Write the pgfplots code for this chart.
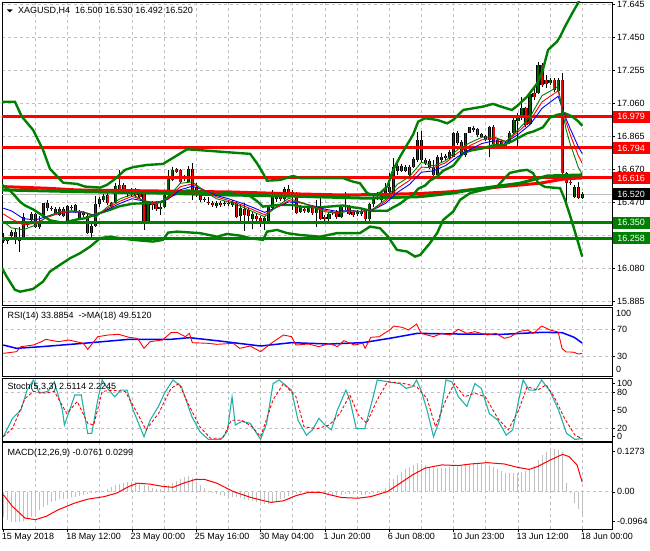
\documentclass[border=0pt]{standalone}
\usepackage{fontspec}
\setmainfont{Liberation Sans}
\usepackage{pgfplots}
\usepackage{pgfplotstable}
\pgfplotsset{compat=1.18}

\definecolor{mtgreen}{RGB}{0,128,0}
\definecolor{bodygreen}{RGB}{0,100,0}
\definecolor{mtred}{RGB}{255,0,0}
\definecolor{gridgray}{RGB}{192,192,192}
\definecolor{stochteal}{RGB}{32,178,170}
\definecolor{histgray}{RGB}{192,192,192}

% XAGUSD H4 candles: bar index, open, high, low, close
\pgfplotstableread{
i o h l c
0 16.245 16.292 16.233 16.268
1 16.255 16.267 16.225 16.243
2 16.274 16.308 16.267 16.298
3 16.298 16.314 16.225 16.253
4 16.245 16.328 16.180 16.268
5 16.268 16.407 16.265 16.383
6 16.350 16.361 16.326 16.338
7 16.372 16.415 16.356 16.401
8 16.401 16.411 16.322 16.328
9 16.328 16.391 16.316 16.363
10 16.383 16.470 16.377 16.466
11 16.466 16.486 16.422 16.437
12 16.437 16.450 16.421 16.431
13 16.403 16.444 16.397 16.434
14 16.395 16.444 16.391 16.434
15 16.433 16.444 16.385 16.391
16 16.357 16.456 16.351 16.450
17 16.446 16.456 16.427 16.437
18 16.456 16.462 16.409 16.417
19 16.381 16.427 16.373 16.417
20 16.409 16.421 16.385 16.397
21 16.391 16.407 16.284 16.292
22 16.289 16.351 16.268 16.334
23 16.334 16.510 16.328 16.460
24 16.460 16.502 16.446 16.490
25 16.486 16.521 16.474 16.510
26 16.514 16.535 16.456 16.466
27 16.466 16.474 16.433 16.443
28 16.470 16.585 16.462 16.569
29 16.575 16.664 16.535 16.549
30 16.575 16.587 16.527 16.539
31 16.541 16.551 16.502 16.526
32 16.521 16.557 16.510 16.545
33 16.545 16.557 16.504 16.515
34 16.541 16.551 16.496 16.505
35 16.521 16.535 16.308 16.351
36 16.351 16.474 16.344 16.462
37 16.466 16.482 16.427 16.456
38 16.468 16.480 16.421 16.433
39 16.431 16.466 16.397 16.446
40 16.444 16.527 16.438 16.515
41 16.515 16.664 16.510 16.609
42 16.604 16.680 16.600 16.664
43 16.668 16.675 16.646 16.654
44 16.664 16.670 16.587 16.594
45 16.620 16.634 16.598 16.609
46 16.594 16.687 16.588 16.670
47 16.670 16.707 16.486 16.515
48 16.565 16.585 16.505 16.545
49 16.515 16.526 16.476 16.486
50 16.492 16.504 16.474 16.486
51 16.476 16.505 16.456 16.466
52 16.466 16.480 16.444 16.456
53 16.450 16.480 16.438 16.466
54 16.466 16.480 16.444 16.456
55 16.460 16.480 16.450 16.466
56 16.466 16.480 16.450 16.460
57 16.456 16.486 16.444 16.476
58 16.470 16.476 16.377 16.387
59 16.391 16.456 16.351 16.437
60 16.431 16.466 16.304 16.397
61 16.427 16.437 16.363 16.391
62 16.372 16.417 16.312 16.403
63 16.391 16.407 16.357 16.372
64 16.377 16.391 16.328 16.351
65 16.357 16.391 16.308 16.377
66 16.363 16.456 16.356 16.446
67 16.437 16.545 16.427 16.505
68 16.490 16.526 16.476 16.510
69 16.505 16.515 16.480 16.490
70 16.490 16.565 16.482 16.549
71 16.549 16.575 16.526 16.535
72 16.535 16.545 16.427 16.521
73 16.521 16.535 16.403 16.407
74 16.417 16.456 16.409 16.446
75 16.431 16.444 16.409 16.422
76 16.417 16.456 16.409 16.444
77 16.446 16.456 16.397 16.407
78 16.411 16.486 16.328 16.452
79 16.452 16.496 16.367 16.372
80 16.387 16.397 16.361 16.372
81 16.372 16.415 16.361 16.403
82 16.417 16.427 16.397 16.407
83 16.417 16.427 16.373 16.383
84 16.383 16.456 16.377 16.446
85 16.452 16.535 16.427 16.443
86 16.446 16.456 16.395 16.403
87 16.417 16.427 16.387 16.397
88 16.403 16.427 16.391 16.417
89 16.403 16.433 16.391 16.422
90 16.422 16.433 16.363 16.372
91 16.372 16.470 16.357 16.462
92 16.462 16.515 16.446 16.496
93 16.505 16.535 16.486 16.496
94 16.486 16.526 16.476 16.515
95 16.502 16.585 16.486 16.555
96 16.565 16.644 16.526 16.535
97 16.526 16.733 16.521 16.683
98 16.659 16.723 16.634 16.687
99 16.687 16.699 16.652 16.659
100 16.683 16.693 16.652 16.659
101 16.683 16.693 16.624 16.634
102 16.683 16.743 16.674 16.727
103 16.723 16.891 16.713 16.842
104 16.842 16.897 16.713 16.723
105 16.723 16.735 16.693 16.703
106 16.719 16.729 16.670 16.680
107 16.683 16.723 16.620 16.634
108 16.634 16.753 16.628 16.739
109 16.723 16.766 16.713 16.739
110 16.747 16.758 16.723 16.733
111 16.733 16.782 16.723 16.772
112 16.743 16.891 16.739 16.885
113 16.885 16.895 16.812 16.822
114 16.831 16.842 16.743 16.753
115 16.753 16.885 16.743 16.881
116 16.885 16.920 16.881 16.917
117 16.914 16.924 16.891 16.901
118 16.905 16.913 16.861 16.871
119 16.877 16.885 16.852 16.861
120 16.865 16.873 16.836 16.846
121 16.842 16.924 16.743 16.920
122 16.920 16.929 16.812 16.818
123 16.842 16.852 16.808 16.818
124 16.831 16.842 16.792 16.802
125 16.806 16.836 16.796 16.825
126 16.822 16.895 16.818 16.885
127 16.885 16.970 16.877 16.960
128 16.956 17.000 16.802 16.990
129 16.970 17.098 16.960 17.029
130 17.029 17.039 16.920 16.930
131 16.936 17.118 16.930 17.114
132 17.118 17.148 17.079 17.098
133 17.118 17.306 17.114 17.286
134 17.286 17.296 17.157 17.167
135 17.197 17.227 17.148 17.173
136 17.178 17.207 17.167 17.197
137 17.197 17.207 17.128 17.138
138 17.134 17.207 17.128 17.197
139 17.197 17.237 16.624 16.644
140 16.644 16.654 16.446 16.585
141 16.594 16.604 16.575 16.585
142 16.505 16.575 16.496 16.565
143 16.561 16.594 16.490 16.496
144 16.500 16.530 16.492 16.520
}\candles

% MACD(12,26,9) main histogram
\pgfplotstableread{
i m
0 -0.079
1 -0.088
2 -0.093
3 -0.095
4 -0.094
5 -0.092
6 -0.086
7 -0.078
8 -0.068
9 -0.058
10 -0.048
11 -0.040
12 -0.033
13 -0.028
14 -0.024
15 -0.021
16 -0.019
17 -0.017
18 -0.015
19 -0.012
20 -0.009
21 -0.007
22 -0.004
23 -0.002
24 0.001
25 0.004
26 0.008
27 0.014
28 0.021
29 0.025
30 0.028
31 0.030
32 0.032
33 0.030
34 0.027
35 0.022
36 0.018
37 0.013
38 0.008
39 0.009
40 0.014
41 0.020
42 0.028
43 0.034
44 0.041
45 0.046
46 0.050
47 0.044
48 0.032
49 0.022
50 0.011
51 0.003
52 -0.004
53 -0.007
54 -0.009
55 -0.012
56 -0.013
57 -0.015
58 -0.017
59 -0.020
60 -0.022
61 -0.025
62 -0.028
63 -0.033
64 -0.036
65 -0.039
66 -0.039
67 -0.034
68 -0.028
69 -0.023
70 -0.019
71 -0.013
72 -0.009
73 -0.006
74 -0.004
75 -0.001
76 0.001
77 0.001
78 0.001
79 -0.001
80 -0.004
81 -0.006
82 -0.009
83 -0.009
84 -0.009
85 -0.008
86 -0.007
87 -0.007
88 -0.008
89 -0.009
90 -0.009
91 -0.008
92 -0.005
93 -0.002
94 0.004
95 0.012
96 0.030
97 0.040
98 0.051
99 0.061
100 0.071
101 0.079
102 0.085
103 0.089
104 0.087
105 0.084
106 0.079
107 0.074
108 0.074
109 0.074
110 0.075
111 0.077
112 0.078
113 0.079
114 0.081
115 0.084
116 0.087
117 0.090
118 0.091
119 0.090
120 0.087
121 0.083
122 0.079
123 0.072
124 0.066
125 0.060
126 0.058
127 0.058
128 0.059
129 0.061
130 0.064
131 0.072
132 0.081
133 0.100
134 0.115
135 0.124
136 0.131
137 0.133
138 0.131
139 0.125
140 0.027
141 -0.004
142 -0.034
143 -0.055
144 -0.0761
}\macd

\pgfplotsset{
  panel/.style={
    scale only axis, width=610pt, anchor=north west,
    xmin=-0.32, xmax=151.4,
    axis line style={black, line width=0.9pt},
    grid style={gridgray, line width=0.7pt, dash pattern=on 3pt off 3pt},
    major tick length=3pt, tick align=outside,
    ytick pos=right, yticklabel pos=right, xtick pos=bottom,
    tick style={black, line width=0.6pt},
    ticklabel style={font=\fontsize{9}{10}\selectfont, inner sep=1pt},
    yticklabel style={anchor=west, xshift=1pt},
  },
  nox/.style={xtick={8,16,...,144}, xticklabels={}, xtick style={draw=none}, xmajorgrids},
  level/.style={gridgray, line width=0.7pt, dash pattern=on 3pt off 3pt},
}
\tikzset{
  lbl/.style={anchor=west, inner sep=0pt, font=\fontsize{9}{10}\selectfont},
  pbox/.style={anchor=west, inner sep=0pt, minimum width=37pt, minimum height=12pt,
    text=white, font=\fontsize{9}{10}\selectfont},
}

\begin{document}
\begin{tikzpicture}
\path[use as bounding box] (0,0) rectangle (650pt,550pt);

% ---------- price panel ----------
\begin{axis}[panel, nox, at={(2pt,548pt)}, height=303pt,
  ymin=15.863, ymax=17.659,
  ytick={15.885,16.0806,16.2761,16.4717,16.6672,16.8628,17.0583,17.2539,17.4494,17.645},
  yticklabels={15.885,16.080,{},16.470,16.670,16.865,17.060,17.255,17.450,17.645},
  ymajorgrids]

% current price line
\addplot[gridgray, line width=0.8pt] coordinates {(-1,16.520) (152,16.520)};

% wicks
\addplot[draw=none, mark=none, error bars/.cd, y dir=plus, y explicit, error mark=none,
  error bar style={draw=black, line width=1pt}]
  table[x=i, y=l, y error expr=\thisrow{h}-\thisrow{l}] {\candles};
% bull bodies
\addplot[draw=none, mark=none, error bars/.cd, y dir=plus, y explicit, error mark=none,
  error bar style={draw=black, line width=3.2pt}]
  table[x=i, y=o, y error expr={max(\thisrow{c}-\thisrow{o},0)}] {\candles};
\addplot[draw=none, mark=none, error bars/.cd, y dir=plus, y explicit, error mark=none,
  error bar style={draw=bodygreen, line width=1.4pt}]
  table[x=i, y=o, y error expr={max(\thisrow{c}-\thisrow{o},0)}] {\candles};
% bear bodies
\addplot[draw=none, mark=none, error bars/.cd, y dir=plus, y explicit, error mark=none,
  error bar style={draw=black, line width=3.2pt}]
  table[x=i, y=c, y error expr={max(\thisrow{o}-\thisrow{c},0)}] {\candles};
\addplot[draw=none, mark=none, error bars/.cd, y dir=plus, y explicit, error mark=none,
  error bar style={draw=mtred, line width=1.4pt}]
  table[x=i, y=c, y error expr={max(\thisrow{o}-\thisrow{c},0)}] {\candles};

% horizontal levels
\addplot[mtred, line width=3pt] coordinates {(-1,16.979) (152,16.979)};
\addplot[mtred, line width=3pt] coordinates {(-1,16.794) (152,16.794)};
\addplot[mtred, line width=3pt] coordinates {(-1,16.616) (152,16.616)};
\addplot[mtgreen, line width=3pt] coordinates {(-1,16.350) (152,16.350)};
\addplot[mtgreen, line width=3pt] coordinates {(-1,16.258) (152,16.258)};

% slow moving averages
\addplot[mtred, line width=3pt] coordinates {
(-0.32,16.565) (10.9,16.555) (18.3,16.545) (37.7,16.539) (56.4,16.533) (73.8,16.521)
(84.5,16.515) (93.7,16.518) (103.7,16.524) (111.9,16.535) (124.3,16.565) (133.5,16.585)
(139.2,16.609) (142.7,16.615) (144,16.616)};
\addplot[mtgreen, line width=3pt] coordinates {
(-0.32,16.545) (18.3,16.535) (37.7,16.527) (56.4,16.515) (73.8,16.507) (90.5,16.496)
(103.7,16.505) (111.9,16.527) (116.1,16.545) (128.5,16.585) (135.3,16.628) (144,16.634)};

% Bollinger bands
\addplot[mtgreen, line width=2.4pt] coordinates {
(-0.32,17.068) (2.9,17.068) (4.6,16.980) (7.4,16.901) (9.9,16.782) (11.6,16.670)
(14.9,16.588) (18.3,16.581) (20.3,16.565) (24.1,16.559) (25.8,16.575) (27.8,16.610)
(30.3,16.664) (32.3,16.680) (35.7,16.693) (39.7,16.699) (42.2,16.735) (45.7,16.786)
(48.2,16.782) (53.9,16.772) (58.9,16.763) (61.4,16.759) (63.1,16.703) (64.6,16.644)
(65.6,16.600) (68.8,16.604) (72.1,16.628) (73.8,16.615) (78.8,16.615) (84.5,16.615)
(87,16.594) (88.7,16.585) (90.5,16.526) (92,16.515) (93.7,16.526) (95.5,16.565)
(97,16.664) (98.7,16.743) (100.4,16.812) (101.9,16.871) (103.2,16.950) (104.9,16.970)
(107.9,16.960) (110.4,16.940) (111.9,16.960) (114.4,17.019) (119.3,17.039) (121.8,17.055)
(124.3,17.035) (126.5,17.019) (127.8,17.043) (130.3,17.098) (132.8,17.177) (134.2,17.256)
(135.5,17.375) (137.7,17.424) (138.5,17.454) (139.7,17.513) (141.5,17.592) (143,17.655)
(144,17.700)};
\addplot[mtgreen, line width=2.4pt] coordinates {
(-0.32,16.575) (1.7,16.540) (2.9,16.510) (4.2,16.474) (5.4,16.453) (7.4,16.430)
(9.9,16.392) (11.6,16.365) (14.9,16.350) (18.3,16.370) (20.3,16.377) (24.1,16.409)
(26.5,16.427) (29,16.449) (32.3,16.464) (35.7,16.466) (39.7,16.474) (41,16.504)
(42.2,16.515) (45.7,16.542) (48.2,16.537) (53.2,16.520) (55.6,16.527) (58.9,16.518)
(61.4,16.508) (63.1,16.479) (64.6,16.446) (65.6,16.449) (68.8,16.456) (72.1,16.456)
(73.8,16.446) (78.8,16.442) (84.5,16.453) (87,16.442) (88.7,16.437) (90.5,16.426)
(92,16.421) (93.7,16.422) (95.5,16.421) (97,16.442) (98.7,16.464) (100.4,16.495)
(101.9,16.515) (103.2,16.552) (104.9,16.571) (106.1,16.600) (107.9,16.624) (109.4,16.659)
(111.9,16.688) (114.4,16.764) (116.1,16.778) (119.3,16.792) (121.8,16.809) (124.3,16.811)
(126.5,16.833) (127.8,16.850) (130.3,16.881) (131.8,16.891) (134.2,16.916) (136,16.974)
(137.7,16.990) (139.7,16.999) (141.5,16.980) (143,16.952) (144,16.925)};
\addplot[mtgreen, line width=2.4pt] coordinates {
(-0.32,16.081) (0.85,16.031) (2.9,15.953) (4.2,15.942) (7.4,15.958) (9.9,16.002)
(11.6,16.061) (14.1,16.101) (16.6,16.140) (19.1,16.170) (21.6,16.209) (24.1,16.259)
(26.5,16.268) (29,16.259) (32.3,16.249) (37.2,16.239) (39.7,16.249) (41,16.292)
(43.2,16.298) (48.9,16.289) (53.2,16.268) (55.6,16.284) (58.9,16.274) (61.4,16.259)
(64.6,16.249) (65.6,16.298) (68.1,16.308) (70.6,16.289) (73.8,16.278) (78.8,16.268)
(83,16.289) (88.7,16.289) (91.2,16.328) (93.7,16.318) (95.7,16.268) (97.9,16.190)
(100.4,16.180) (102.4,16.150) (103.7,16.160) (106.1,16.229) (107.9,16.289) (109.4,16.367)
(111.9,16.417) (113.6,16.486) (116.1,16.526) (119.3,16.545) (122.8,16.565) (124.3,16.604)
(126,16.646) (128.5,16.659) (130.3,16.664) (131.8,16.644) (133,16.587) (134.7,16.563)
(138.5,16.555) (139.7,16.486) (141,16.391) (142.2,16.296) (144,16.150)};

% fast moving averages
\addplot[blue, line width=0.9pt] coordinates {
(0,16.437) (2,16.421) (5,16.375) (8,16.367) (11,16.389) (14,16.406) (17,16.414) (20,16.413)
(23,16.393) (26,16.430) (29,16.465) (32,16.493) (35,16.479) (38,16.468) (41,16.490)
(44,16.546) (47,16.567) (50,16.543) (53,16.512) (56,16.493) (59,16.469) (62,16.442)
(65,16.412) (68,16.442) (71,16.474) (74,16.468) (77,16.451) (80,16.431) (83,16.418)
(86,16.423) (89,16.418) (92,16.428) (95,16.464) (98,16.530) (101,16.577) (104,16.650)
(107,16.658) (110,16.689) (113,16.742) (116,16.784) (119,16.820) (122,16.836) (125,16.828)
(128,16.873) (131,16.932) (134,17.029) (137,17.083) (138,17.100) (139,17.032) (140,16.965)
(141,16.908) (142,16.856) (143,16.802) (144,16.760)};
\addplot[mtred, line width=0.9pt] coordinates {
(0,16.403) (2,16.373) (5,16.338) (8,16.347) (11,16.383) (14,16.408) (17,16.417) (20,16.414)
(23,16.389) (26,16.437) (29,16.478) (32,16.507) (35,16.482) (38,16.467) (41,16.494)
(44,16.564) (47,16.581) (50,16.544) (53,16.504) (56,16.483) (59,16.459) (62,16.429)
(65,16.398) (68,16.442) (71,16.482) (74,16.471) (77,16.448) (80,16.424) (83,16.411)
(86,16.421) (89,16.417) (92,16.430) (95,16.475) (98,16.553) (101,16.601) (104,16.680)
(107,16.677) (110,16.706) (113,16.765) (116,16.807) (119,16.842) (122,16.851) (125,16.833)
(128,16.888) (131,16.955) (134,17.067) (137,17.116) (138,17.132) (139,17.035) (140,16.945)
(141,16.873) (142,16.811) (143,16.749) (144,16.703)};
\addplot[mtgreen, line width=0.9pt] coordinates {
(0,16.357) (2,16.320) (5,16.309) (8,16.337) (11,16.389) (14,16.416) (17,16.422) (20,16.415)
(23,16.383) (26,16.447) (29,16.492) (32,16.519) (35,16.481) (38,16.462) (41,16.500)
(44,16.584) (47,16.593) (50,16.539) (53,16.493) (56,16.474) (59,16.449) (62,16.417)
(65,16.386) (68,16.448) (71,16.495) (74,16.472) (77,16.443) (80,16.416) (83,16.405)
(86,16.421) (89,16.415) (92,16.433) (95,16.487) (98,16.578) (101,16.623) (104,16.709)
(107,16.687) (110,16.718) (113,16.784) (116,16.824) (119,16.857) (122,16.859) (125,16.832)
(128,16.901) (131,16.977) (134,17.104) (137,17.144) (138,17.158) (139,17.019) (140,16.902)
(141,16.817) (142,16.749) (143,16.680) (144,16.637)};

\coordinate (b1) at (axis cs:151.4,16.979);
\coordinate (b2) at (axis cs:151.4,16.794);
\coordinate (b3) at (axis cs:151.4,16.616);
\coordinate (b4) at (axis cs:151.4,16.520);
\coordinate (b5) at (axis cs:151.4,16.350);
\coordinate (b6) at (axis cs:151.4,16.258);
\end{axis}

% ---------- RSI panel ----------
\begin{axis}[panel, nox, at={(2pt,243pt)}, height=69pt,
  ymin=0, ymax=103.5,
  ytick={70,30}, yticklabels={70,30}]
\addplot[level] coordinates {(-1,70) (152,70)};
\addplot[level] coordinates {(-1,30) (152,30)};
\addplot[blue, line width=1.5pt] coordinates {
(0,46.5) (3.3,41.5) (9.5,44) (19.9,49) (31.3,55) (41.7,55) (46.3,57.5) (53.1,53) (64,45)
(71.7,50) (81.1,48) (89.4,50) (96.1,56.5) (103,64) (113,63) (124,62.5) (134,65.5) (139,65)
(142,58) (144,49.5)};
\addplot[mtred, line width=0.9pt] coordinates {
(0,34) (3.3,36.5) (4.4,44) (7.5,46.5) (9.5,51.5) (10.6,55) (13.7,51.5) (16.3,54) (19.9,49)
(21,40) (23.5,59) (26.1,61.5) (28.7,62.5) (31.3,58) (33.4,56.5) (35,41.5) (36.5,51.5)
(39.6,54) (41.7,65) (43.2,65.5) (45.3,59) (46.3,64) (47,50) (51,49) (53.1,47.5) (57.2,49)
(58.8,41.5) (61.4,45) (64,36.5) (66.6,49) (69.7,61.5) (71.7,59) (72.8,46.5) (75.9,48)
(78.5,44) (81.1,49) (83.1,44) (84.7,53) (87.3,46.5) (89.4,49) (90,41.5) (91.4,58) (93.5,59)
(96.1,69) (97.1,75) (99.2,73) (100.8,69) (102.8,78) (103.9,64) (107,59) (109.1,64)
(111.1,61.5) (113.2,70) (115.3,64) (117.3,66.5) (120.4,61.5) (122.5,64) (124.6,56.5)
(126.2,59) (128.2,66.5) (130.3,69) (131.9,64) (133.9,75) (136,69) (138,66) (139,41) (140,36)
(141,36) (142,35.5) (143,33) (144,33.9)};
\end{axis}
\node[lbl] at (616pt,237pt) {100};
\node[lbl] at (616pt,181pt) {0};

% ---------- Stochastic panel ----------
\begin{axis}[panel, nox, at={(2pt,171.7pt)}, height=63.4pt,
  ymin=-2.8, ymax=102.8,
  ytick={94,80,50,20,5.5}, yticklabels={100,80,50,20,0}]
\addplot[level] coordinates {(-1,80) (152,80)};
\addplot[level] coordinates {(-1,20) (152,20)};
\addplot[stochteal, line width=1.1pt] coordinates {
(0,5.5) (2.3,36) (4.4,50) (5.9,83) (7.5,100) (9,78) (11.1,81) (12.7,97) (14.7,50) (15.2,25)
(17.8,75) (19.4,75) (21,11) (22,11) (23.5,67) (24.6,100) (25.6,89) (27.7,72) (29.2,83)
(30.8,83) (32.3,50) (35,5.5) (36.5,33) (38.6,56) (40.1,78) (42.2,100) (44.3,89) (46.9,39)
(48.9,14) (51,1) (54.1,1) (55.7,14) (56.9,72) (57.7,25) (59.3,31) (61.4,28) (64,1) (65.5,28)
(67.1,94) (68.6,100) (71.7,83) (73.3,33) (75.4,8) (76.9,17) (78.5,36) (80,25) (81.6,17)
(83.1,50) (85.2,83) (86.2,67) (87.8,19) (89.9,19) (92,72) (93,100) (95.6,97) (98.7,94)
(100.2,86) (101.8,89) (102.8,100) (103.9,83) (105.4,50) (107,5.5) (108.5,33) (110.1,100)
(111.6,97) (113.2,72) (115.3,56) (117.3,94) (118.9,86) (120.9,44) (123,33) (125.1,8)
(126.7,17) (128.2,67) (129.3,100) (130.8,83) (132.4,83) (133.9,100) (136,81) (138.1,50)
(140.1,11) (142.2,1) (144,2.5)};
\addplot[mtred, line width=0.9pt, dash pattern=on 3pt off 2pt] coordinates {
(0,5.5) (2.3,19.5) (5.4,69) (7.5,81) (10.6,78) (12.7,81) (15.8,44) (18.4,64) (21,28)
(22.5,25) (24.6,81) (27.2,83) (30.3,81) (33.4,44) (35.5,17) (38.6,44) (41.7,86) (43.7,94)
(46.3,56) (48.9,22) (51.5,3) (54.6,3) (56.7,33) (59.3,33) (61.9,22) (64,5.5) (67.1,67)
(69.7,94) (72.8,72) (74.8,22) (78,19) (81.1,25) (83.7,44) (86.2,75) (88.3,42) (90.4,28)
(93,67) (95.6,97) (99.7,94) (102.8,89) (105.4,69) (107.5,22) (110.1,67) (112.2,94)
(114.7,72) (117.3,78) (119.9,72) (123,36) (125.6,17) (128.2,50) (130.3,89) (132.9,83)
(135,92) (137,72) (139.6,36) (142.2,8) (144,2.2)};
\end{axis}

% ---------- MACD panel ----------
\begin{axis}[panel, at={(2pt,107.3pt)}, height=86.3pt,
  ymin=-0.1162, ymax=0.1534,
  ytick={0.1273,0,-0.0924}, yticklabels={0.1273,0.00,-0.0964},
  xtick={16,32,...,144},
  xticklabels={18 May 12:00,23 May 00:00,25 May 16:00,30 May 04:00,1 Jun 20:00,
    6 Jun 08:00,10 Jun 23:00,13 Jun 12:00,18 Jun 00:00},
  extra x ticks={0}, extra x tick labels={15 May 2018}, extra x tick style={grid=none},
  minor xtick={8,24,...,136}, xminorgrids, xmajorgrids, minor tick length=0pt,
  xticklabel style={anchor=north west, xshift=-2.5pt, yshift=0pt}]
\addplot[level] coordinates {(-1,0) (152,0)};
\addplot[ycomb, draw=histgray, line width=1pt] table[x=i, y=m] {\macd};
\addplot[mtred, line width=1pt] coordinates {
(0,-0.009) (2.3,-0.046) (5.4,-0.082) (8,-0.087) (10.6,-0.077) (13.7,-0.056) (17.8,-0.035)
(21,-0.023) (25.1,-0.015) (28.2,-0.004) (31.3,0.017) (33.4,0.027) (36.5,0.024) (39.6,0.017)
(42.2,0.014) (44.8,0.027) (47.9,0.039) (50,0.039) (53.1,0.027) (57.2,0.001) (61.4,-0.017)
(64.5,-0.027) (66.6,-0.033) (69.7,-0.028) (72.8,-0.012) (75.9,-0.002) (79,-0.002)
(81.1,-0.009) (84.2,-0.018) (88.3,-0.020) (91.4,-0.015) (95.6,0.001) (98.7,0.027)
(101.8,0.053) (104.9,0.074) (109.1,0.084) (113.2,0.082) (116.3,0.087) (120.4,0.091)
(124.6,0.087) (127.7,0.077) (130.8,0.070) (132.9,0.079) (136,0.099) (139.1,0.117)
(140.7,0.110) (142.7,0.084) (144,0.0299)};
\end{axis}

% price boxes on the scale
\node[pbox, fill=mtred] at ([xshift=0.5pt]b1) {16.979};
\node[pbox, fill=mtred] at ([xshift=0.5pt]b2) {16.794};
\node[pbox, fill=mtred] at ([xshift=0.5pt]b3) {16.616};
\node[pbox, fill=black] at ([xshift=0.5pt]b4) {16.520};
\node[pbox, fill=mtgreen] at ([xshift=0.5pt]b5) {16.350};
\node[pbox, fill=mtgreen] at ([xshift=0.5pt]b6) {16.258};

% panel titles
\fill (7pt,540.5pt) -- (12.5pt,540.5pt) -- (9.75pt,537.5pt) -- cycle;
\node[lbl] at (18pt,539pt) {XAGUSD,H4\ \ 16.500 16.530 16.492 16.520};
\node[lbl] at (7.5pt,234pt) {RSI(14) 33.8854\ \ ->MA(18) 49.5120};
\node[lbl] at (7.5pt,162.7pt) {Stoch(5,3,3) 2.5114 2.2245};
\node[lbl] at (7.5pt,97.3pt) {MACD(12,26,9) -0.0761 0.0299};
\end{tikzpicture}
\end{document}
